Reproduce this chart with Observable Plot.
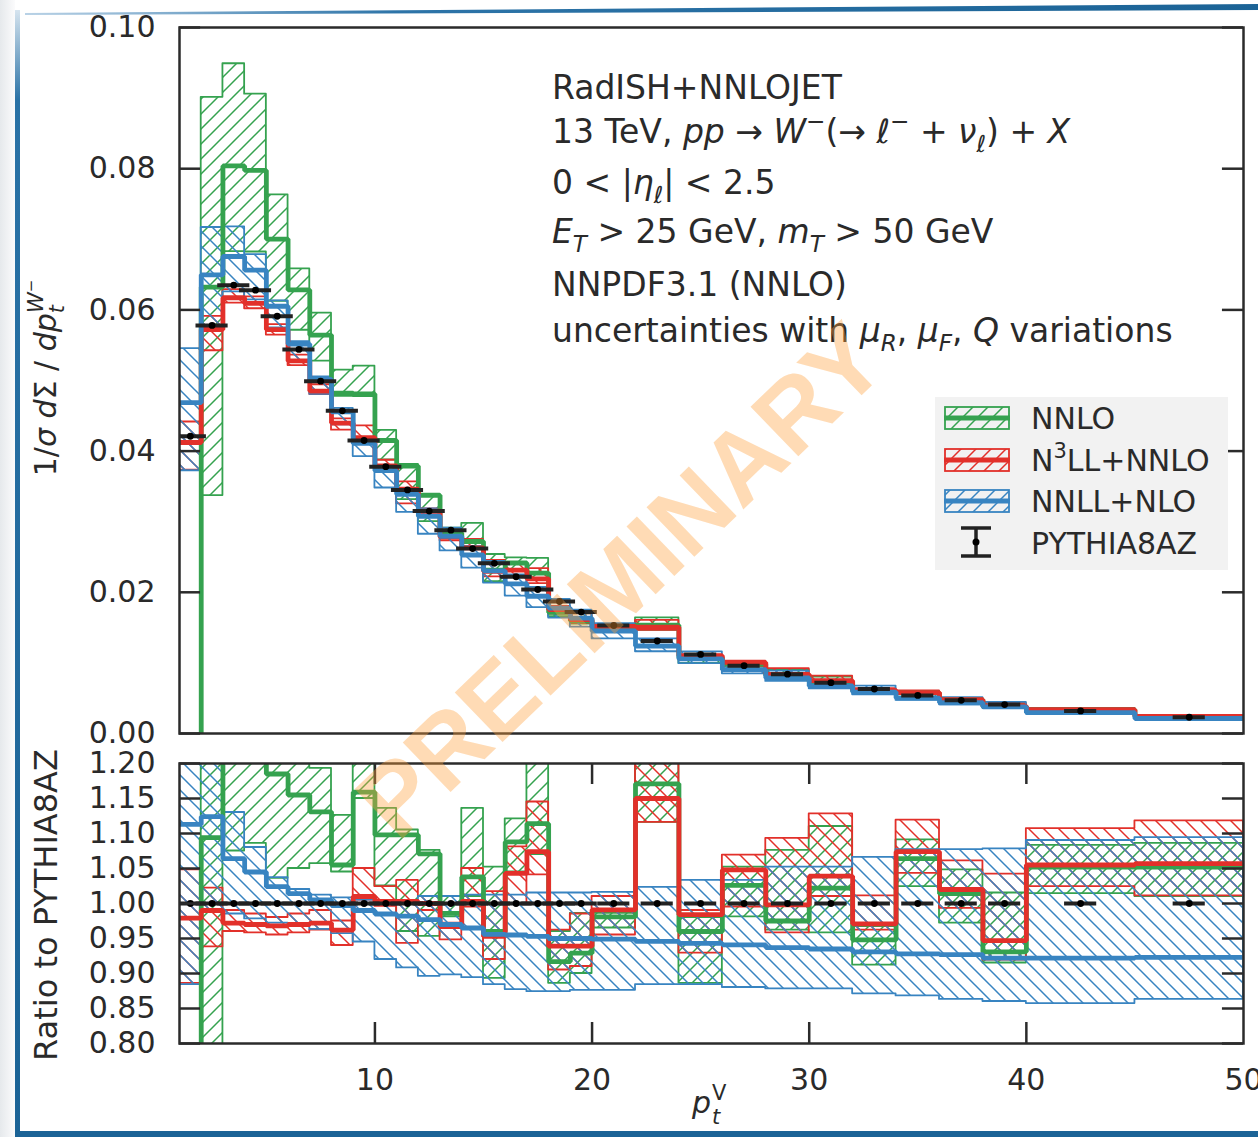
<!DOCTYPE html>
<html>
<head>
<meta charset="utf-8">
<script src="https://cdn.jsdelivr.net/npm/d3@7"></script>
<script src="https://cdn.jsdelivr.net/npm/@observablehq/plot@0.6"></script>
<style>
  html, body { margin: 0; padding: 0; background: #fff; }
  #page { position: relative; width: 1258px; height: 1137px; overflow: hidden; background: #fff; }
  #page > svg { position: absolute; left: 0; }
  text { white-space: pre; }
</style>
</head>
<body>
<div id="page"></div>
<script>
// ---- W- transverse-momentum spectrum, 31 bins in pT (GeV) ----
const binEdges = [1, 2, 3, 4, 5, 6, 7, 8, 9, 10, 11, 12, 13, 14, 15, 16, 17, 18, 19, 20,
                  22, 24, 26, 28, 30, 32, 34, 36, 38, 40, 45, 50];

// PYTHIA8 AZ tune: 1/sigma dSigma/dpT per bin
const pythia8AZ = [0.0421, 0.0578, 0.0635, 0.0628, 0.0591, 0.0544, 0.0499, 0.0457, 0.0415, 0.0378,
                   0.0345, 0.0315, 0.0288, 0.0262, 0.0241, 0.0222, 0.0204, 0.0187, 0.0172, 0.0153,
                   0.0131, 0.0112, 0.0096, 0.0084, 0.0072, 0.0063, 0.0054, 0.0047, 0.0041, 0.0032, 0.0023];

// Predictions as ratios to PYTHIA8AZ: central value and scale-variation envelope
const nnloCentral = [-0.5, 1.094, 1.266, 1.270, 1.185, 1.155, 1.131, 1.055, 1.159, 1.098, 1.098, 1.071, 0.986, 1.038, 0.960, 1.088,
                     1.114, 0.917, 0.929, 0.981, 1.171, 0.960, 1.026, 0.975, 1.022, 0.948, 1.064, 1.014, 0.931, 1.052, 1.052];
const nnloLow     = [-1.0, 0.583, 1.075, 1.086, 1.036, 1.050, 1.057, 1.045, 1.150, 1.025, 0.960, 0.953, 0.981, 1.010, 0.893, 1.045,
                     1.070, 0.886, 0.900, 0.965, 1.116, 0.886, 0.981, 0.962, 0.958, 0.912, 1.024, 0.972, 0.915, 1.014, 1.010];
const nnloHigh    = [-0.2, 1.559, 1.494, 1.442, 1.291, 1.210, 1.193, 1.126, 1.254, 1.136, 1.105, 1.076, 1.010, 1.136, 1.052, 1.121,
                     1.216, 0.960, 0.986, 0.986, 1.250, 0.980, 1.052, 1.076, 1.110, 0.967, 1.091, 1.048, 1.015, 1.083, 1.086];

const n3llCentral = [0.979, 0.990, 0.972, 0.970, 0.968, 0.970, 0.972, 0.962, 1.010, 1.003, 1.003, 1.000, 0.967, 1.003, 0.953, 1.043,
                     1.074, 0.939, 0.939, 0.991, 1.150, 0.984, 1.048, 0.998, 1.039, 0.971, 1.074, 1.020, 0.947, 1.055, 1.057];
const n3llLow     = [0.886, 0.938, 0.960, 0.958, 0.955, 0.958, 0.962, 0.940, 1.005, 0.996, 0.943, 0.990, 0.948, 0.995, 0.920, 1.000,
                     1.041, 0.905, 0.910, 0.955, 1.116, 0.929, 0.995, 0.958, 1.010, 0.962, 1.043, 0.993, 0.919, 1.024, 1.011];
const n3llHigh    = [1.048, 1.022, 0.990, 0.985, 0.980, 0.985, 0.990, 0.975, 1.050, 1.024, 1.033, 1.010, 0.972, 1.050, 1.017, 1.081,
                     1.145, 0.962, 0.985, 1.010, 1.223, 0.990, 1.069, 1.093, 1.128, 1.011, 1.119, 1.061, 1.042, 1.107, 1.118];

const nnllCentral = [1.113, 1.124, 1.064, 1.045, 1.024, 1.014, 1.005, 0.997, 0.990, 0.985, 0.982, 0.977, 0.970, 0.965, 0.956, 0.955,
                     0.953, 0.950, 0.950, 0.949, 0.946, 0.943, 0.941, 0.937, 0.935, 0.931, 0.928, 0.927, 0.922, 0.922, 0.923];
const nnllLow     = [0.884, 0.990, 0.985, 0.978, 0.972, 0.968, 0.963, 0.957, 0.945, 0.920, 0.908, 0.896, 0.898, 0.894, 0.884, 0.877,
                     0.874, 0.874, 0.876, 0.876, 0.884, 0.884, 0.880, 0.878, 0.878, 0.871, 0.868, 0.863, 0.860, 0.857, 0.863];
const nnllHigh    = [1.295, 1.240, 1.130, 1.080, 1.037, 1.020, 1.012, 1.008, 1.005, 1.003, 1.002, 1.010, 1.010, 1.012, 1.012, 1.012,
                     1.015, 1.015, 1.015, 1.016, 1.023, 1.033, 1.033, 1.052, 1.052, 1.066, 1.077, 1.077, 1.078, 1.090, 1.094];

// axis ticks
const spectrumTicks = [0.00, 0.02, 0.04, 0.06, 0.08, 0.10];
const ratioTicks = [0.80, 0.85, 0.90, 0.95, 1.00, 1.05, 1.10, 1.15, 1.20];
const ptTicks = [10, 20, 30, 40, 50];

// ---- styling ----
const GREEN = "#35a24f", RED = "#e2302a", BLUE = "#3884c1";
const TEXT = "#2a2a2a", AXIS = "#2b2b2b";
const FONT = "DejaVu Sans";

const series = [
  {color: GREEN, hatch: "hatch-green-fwd", c: nnloCentral, lo: nnloLow, hi: nnloHigh},
  {color: RED,   hatch: "hatch-red-back",  c: n3llCentral, lo: n3llLow, hi: n3llHigh},
  {color: BLUE,  hatch: "hatch-blue-back", c: nnllCentral, lo: nnllLow, hi: nnllHigh}
];

// step rows: one per lower bin edge plus a closing row at the last edge
function stepRows(s, norm) {
  const rows = s.c.map((c, i) => ({x: binEdges[i], c: c * norm[i], lo: s.lo[i] * norm[i], hi: s.hi[i] * norm[i]}));
  rows.push({...rows[rows.length - 1], x: binEdges[binEdges.length - 1]});
  return rows;
}
function pythiaRows(norm) {
  return pythia8AZ.map((v, i) => ({xc: (binEdges[i] + binEdges[i + 1]) / 2, v: v / norm[i]}));
}

const ones = pythia8AZ.map(() => 1);
const TICK_X = 0.97;     // 21px in GeV units
const xDomain = [1, 50];

function curveMarks(norm, pyNorm) {
  const marks = [];
  for (const s of series) {
    marks.push(Plot.areaY(stepRows(s, norm), {
      x: "x", y1: "lo", y2: "hi", curve: "step-after",
      fill: `url(#${s.hatch})`, stroke: s.color, strokeWidth: 1.8, clip: true
    }));
  }
  for (const s of series) {
    marks.push(Plot.lineY(stepRows(s, norm), {
      x: "x", y: "c", curve: "step-after", stroke: s.color, strokeWidth: 4.8,
      strokeLinejoin: "miter", strokeLinecap: "butt", clip: true
    }));
  }
  const py = pythiaRows(pyNorm);
  marks.push(Plot.ruleY(py, {y: "v", x1: d => d.xc - 0.74, x2: d => d.xc + 0.74, stroke: "#222", strokeWidth: 4, clip: true}));
  marks.push(Plot.dot(py, {x: "xc", y: "v", r: 3.4, fill: "#000", stroke: "none", clip: true}));
  return marks;
}

const baseStyle = {fontFamily: FONT, fontSize: "30px", background: "transparent", overflow: "visible", color: TEXT};

// ---- spectrum panel ----
const upper = Plot.plot({
  width: 1258, height: 745,
  marginLeft: 179, marginRight: 15, marginTop: 27, marginBottom: 12,
  x: {domain: xDomain, axis: null},
  y: {domain: [0, 0.10], axis: null},
  style: baseStyle,
  marks: [
    ...curveMarks(pythia8AZ, ones),
    Plot.frame({stroke: AXIS, strokeWidth: 2.5}),
    Plot.ruleY(spectrumTicks, {y: d => d, x1: () => 1, x2: () => 1 + TICK_X, stroke: AXIS, strokeWidth: 2.5}),
    Plot.ruleY(spectrumTicks, {y: d => d, x1: () => 50 - TICK_X, x2: () => 50, stroke: AXIS, strokeWidth: 2.5}),
    Plot.text(spectrumTicks, {x: () => 1, y: d => d, text: d => d3.format(".2f")(d), textAnchor: "end", dx: -24, fontSize: 30, fill: TEXT})
  ]
});
upper.style.top = "0px";

// ---- ratio panel ----
const lower = Plot.plot({
  width: 1258, height: 392,
  marginLeft: 179, marginRight: 15, marginTop: 18, marginBottom: 94,
  x: {domain: xDomain, axis: null},
  y: {domain: [0.8, 1.2], axis: null},
  style: baseStyle,
  marks: [
    ...curveMarks(ones, pythia8AZ),
    Plot.frame({stroke: AXIS, strokeWidth: 2.5}),
    Plot.ruleY(ratioTicks, {y: d => d, x1: () => 1, x2: () => 1 + TICK_X, stroke: AXIS, strokeWidth: 2.5}),
    Plot.ruleY(ratioTicks, {y: d => d, x1: () => 50 - TICK_X, x2: () => 50, stroke: AXIS, strokeWidth: 2.5}),
    Plot.ruleX(ptTicks.slice(0, 4), {x: d => d, y1: () => 0.8, y2: () => 0.83, stroke: AXIS, strokeWidth: 2.5}),
    Plot.ruleX(ptTicks.slice(0, 4), {x: d => d, y1: () => 1.17, y2: () => 1.2, stroke: AXIS, strokeWidth: 2.5}),
    Plot.text(ratioTicks, {x: () => 1, y: d => d, text: d => d3.format(".2f")(d), textAnchor: "end", dx: -24, fontSize: 30, fill: TEXT}),
    Plot.text(ptTicks, {x: d => d, y: () => 0.8, text: d => String(d), dy: 37, fontSize: 30, fill: TEXT})
  ]
});
lower.style.top = "745px";

const page = document.getElementById("page");
page.appendChild(upper);
page.appendChild(lower);

// ---- overlay: hatch patterns, annotations, legend, labels ----
const ov = d3.select(page).append("svg")
  .attr("width", 1258).attr("height", 1137)
  .style("top", "0px").style("pointer-events", "none")
  .attr("font-family", FONT).attr("fill", TEXT);

const defs = ov.append("defs");
function hatch(id, color, back) {
  const s = 15;
  const d = back
    ? `M-2,${s - 2} l4,4 M0,0 l${s},${s} M${s - 2},-2 l4,4`
    : `M-2,2 l4,-4 M0,${s} l${s},${-s} M${s - 2},${s + 2} l4,-4`;
  defs.append("pattern").attr("id", id).attr("patternUnits", "userSpaceOnUse")
    .attr("width", s).attr("height", s)
    .append("path").attr("d", d).attr("stroke", color).attr("stroke-width", 1.5).attr("fill", "none");
}
hatch("hatch-green-fwd", GREEN, false);
hatch("hatch-red-back", RED, true);
hatch("hatch-blue-back", BLUE, true);
hatch("hatch-red-fwd", RED, false);
hatch("hatch-blue-fwd", BLUE, false);

// slide frame
const gx = defs.append("linearGradient").attr("id", "edge-fade").attr("x1", 0).attr("x2", 1).attr("y1", 0).attr("y2", 0);
gx.append("stop").attr("offset", 0).attr("stop-color", "#e6e9ec");
gx.append("stop").attr("offset", 1).attr("stop-color", "#fbfbfc");
const gv = defs.append("linearGradient").attr("id", "bar-v").attr("x1", 0).attr("x2", 0).attr("y1", 0).attr("y2", 1);
gv.append("stop").attr("offset", 0).attr("stop-color", "#d6e4ef");
gv.append("stop").attr("offset", 0.08).attr("stop-color", "#2a72a6");
gv.append("stop").attr("offset", 1).attr("stop-color", "#1b6396");
const gh = defs.append("linearGradient").attr("id", "bar-h").attr("x1", 0).attr("x2", 1).attr("y1", 0).attr("y2", 0);
gh.append("stop").attr("offset", 0).attr("stop-color", "#b9d2e6");
gh.append("stop").attr("offset", 0.3).attr("stop-color", "#2d74a8");
gh.append("stop").attr("offset", 1).attr("stop-color", "#1b6396");
ov.append("rect").attr("x", 0).attr("y", 0).attr("width", 15).attr("height", 1137).attr("fill", "url(#edge-fade)");
ov.append("rect").attr("x", 15).attr("y", 10).attr("width", 5).attr("height", 1127).attr("fill", "url(#bar-v)");
ov.append("polygon").attr("points", "25,13 1258,4 1258,10 25,15").attr("fill", "url(#bar-h)");
ov.append("rect").attr("x", 15).attr("y", 1131).attr("width", 1243).attr("height", 6).attr("fill", "#1b6396");

// rich text helper: segments [text, kind, extra]
function rich(sel, segs, fs) {
  let cur = 0;
  for (const [t, kind = "", extra = {}] of segs) {
    let shift = 0, size = fs;
    if (kind.includes("sub")) { shift = 0.28 * fs; size = 0.7 * fs; }
    if (kind.includes("sup")) { shift = -0.42 * fs; size = 0.7 * fs; }
    if (kind.includes("sup2")) { shift = -0.66 * fs; size = 0.5 * fs; }
    const ts = sel.append("tspan").text(t).attr("font-size", size).attr("dy", shift - cur);
    cur = shift;
    if (kind.startsWith("i")) ts.attr("font-style", "italic");
    if (extra.dx) ts.attr("dx", extra.dx);
  }
  return sel;
}

// process description
const infoLines = [
  {y: 99,  segs: [["RadISH+NNLOJET"]]},
  {y: 143, segs: [["13 TeV, "], ["pp", "i"], [" → "], ["W", "i"], ["−", "sup"], ["(→ "], ["ℓ", "i"], ["−", "sup"], [" + "], ["ν", "i"], ["ℓ", "isub"], [") + "], ["X", "i"]]},
  {y: 194, segs: [["0 < |"], ["η", "i"], ["ℓ", "isub"], ["| < 2.5"]]},
  {y: 243, segs: [["E", "i"], ["T", "isub"], [" > 25 GeV, "], ["m", "i"], ["T", "isub"], [" > 50 GeV"]]},
  {y: 296, segs: [["NNPDF3.1 (NNLO)"]]},
  {y: 342, segs: [["uncertainties with "], ["μ", "i"], ["R", "isub"], [", "], ["μ", "i"], ["F", "isub"], [", "], ["Q", "i"], [" variations"]]}
];
for (const line of infoLines) {
  rich(ov.append("text").attr("x", 552).attr("y", line.y).attr("font-size", 33), line.segs, 33);
}

// legend
const lg = ov.append("g");
lg.append("rect").attr("x", 935).attr("y", 397).attr("width", 293).attr("height", 173).attr("fill", "#f2f2f2");
const legendItems = [
  {cy: 418, color: GREEN, hatch: "hatch-green-fwd", segs: [["NNLO"]]},
  {cy: 460, color: RED,   hatch: "hatch-red-fwd",   segs: [["N"], ["3", "sup"], ["LL+NNLO"]]},
  {cy: 501, color: BLUE,  hatch: "hatch-blue-fwd",  segs: [["NNLL+NLO"]]}
];
for (const it of legendItems) {
  lg.append("rect").attr("x", 945).attr("y", it.cy - 11).attr("width", 64).attr("height", 22)
    .attr("fill", `url(#${it.hatch})`).attr("stroke", it.color).attr("stroke-width", 1.8);
  lg.append("line").attr("x1", 944).attr("x2", 1010).attr("y1", it.cy).attr("y2", it.cy)
    .attr("stroke", it.color).attr("stroke-width", 4.8);
  rich(lg.append("text").attr("x", 1031).attr("y", it.cy + 11).attr("font-size", 30), it.segs, 30);
}
const pyY = 542;
lg.append("line").attr("x1", 976).attr("x2", 976).attr("y1", pyY - 14).attr("y2", pyY + 14).attr("stroke", "#222").attr("stroke-width", 3.5);
lg.append("line").attr("x1", 961).attr("x2", 991).attr("y1", pyY - 14).attr("y2", pyY - 14).attr("stroke", "#222").attr("stroke-width", 3.5);
lg.append("line").attr("x1", 961).attr("x2", 991).attr("y1", pyY + 14).attr("y2", pyY + 14).attr("stroke", "#222").attr("stroke-width", 3.5);
lg.append("circle").attr("cx", 976).attr("cy", pyY).attr("r", 3.5).attr("fill", "#000");
lg.append("text").attr("x", 1031).attr("y", pyY + 12).attr("font-size", 30).text("PYTHIA8AZ");

// axis titles
rich(ov.append("text").attr("transform", "translate(56,378) rotate(-90)").attr("text-anchor", "middle").attr("font-size", 30),
  [["1/"], ["σ", "i"], [" "], ["d", "i"], ["Σ"], [" / "], ["dp", "i"], ["t", "isub"], ["W", "isup", {dx: -8}], ["−", "sup2"]], 30);
ov.append("text").attr("transform", "translate(57,905) rotate(-90)").attr("text-anchor", "middle")
  .attr("font-size", 32).text("Ratio to PYTHIA8AZ");
ov.append("text").attr("x", 692).attr("y", 1113).attr("font-size", 30).attr("font-style", "italic").text("p");
ov.append("text").attr("x", 712).attr("y", 1124).attr("font-size", 21).attr("font-style", "italic").text("t");
ov.append("text").attr("x", 712).attr("y", 1100).attr("font-size", 21).text("V");

// watermark
ov.append("text").attr("transform", "translate(620,580) rotate(-44)")
  .attr("text-anchor", "middle").attr("dominant-baseline", "central")
  .attr("font-family", "Liberation Sans").attr("font-weight", "bold").attr("font-size", 100)
  .attr("fill", "rgb(255,160,60)").attr("fill-opacity", 0.38).text("PRELIMINARY");
</script>
</body>
</html>
